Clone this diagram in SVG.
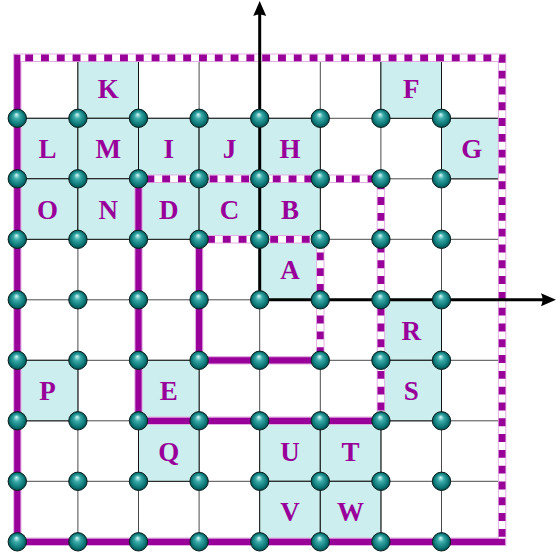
<svg xmlns="http://www.w3.org/2000/svg" xmlns:xlink="http://www.w3.org/1999/xlink" width="556" height="557" viewBox="0 0 556 557">
<style>
.grid{stroke:#4a4a4a;stroke-width:1;fill:none}
.cell rect{fill:#cdeeee;stroke:#111;stroke-width:1}
.cell text{font-family:"Liberation Serif","DejaVu Serif",serif;font-weight:bold;font-size:27px;fill:#990099;text-anchor:middle}
.halo{stroke:#e3aee3;stroke-width:8.4;fill:none;stroke-linecap:square}
.solid{stroke:#990099;stroke-width:6.2;fill:none;stroke-linecap:square}
.dwhite{stroke:#ffffff;stroke-width:6.4;fill:none}
.dash{stroke:#990099;stroke-width:6.8;fill:none;stroke-dasharray:7.9 7.9;stroke-dashoffset:7.9}
.axis{stroke:#000;stroke-width:3;fill:none;marker-end:url(#arr)}
.ball{fill:url(#bg);stroke:#0a2222;stroke-width:1}
</style>
<defs>
<radialGradient id="bg" cx="0.5" cy="0.5" r="0.5" fx="0.45" fy="0.28">
<stop offset="0" stop-color="#d8fafa"/>
<stop offset="0.35" stop-color="#3aaaa8"/>
<stop offset="0.8" stop-color="#0a7474"/>
<stop offset="1" stop-color="#034848"/>
</radialGradient>
<marker id="arr" markerUnits="userSpaceOnUse" viewBox="-1 -7 17 14" markerWidth="17" markerHeight="14" refX="2" refY="0" orient="auto">
<path d="M15,0 L0,-6.5 Q3,0 0,6.5 Z" fill="#000"/>
</marker>
</defs>
<rect width="556" height="557" fill="#fff"/>
<g id="grid" class="grid">
<path d="M77.9,57.8V541.8M138.5,57.8V541.8M199.1,57.8V541.8M259.7,57.8V541.8M320.3,57.8V541.8M380.9,57.8V541.8M441.5,57.8V541.8"/>
<path d="M17.3,118.3H502.1M17.3,178.8H502.1M17.3,239.3H502.1M17.3,299.8H502.1M17.3,360.3H502.1M17.3,420.8H502.1M17.3,481.3H502.1"/>
</g>
<g id="cell-K" class="cell"><rect x="77.9" y="57.8" width="60.6" height="60.5"/><text x="108.2" y="97.8">K</text></g>
<g id="cell-F" class="cell"><rect x="380.9" y="57.8" width="60.6" height="60.5"/><text x="411.2" y="97.8">F</text></g>
<g id="cell-L" class="cell"><rect x="17.3" y="118.3" width="60.6" height="60.5"/><text x="47.6" y="158.3">L</text></g>
<g id="cell-M" class="cell"><rect x="77.9" y="118.3" width="60.6" height="60.5"/><text x="108.2" y="158.3">M</text></g>
<g id="cell-I" class="cell"><rect x="138.5" y="118.3" width="60.6" height="60.5"/><text x="168.8" y="158.3">I</text></g>
<g id="cell-J" class="cell"><rect x="199.1" y="118.3" width="60.6" height="60.5"/><text x="229.4" y="158.3">J</text></g>
<g id="cell-H" class="cell"><rect x="259.7" y="118.3" width="60.6" height="60.5"/><text x="290.0" y="158.3">H</text></g>
<g id="cell-G" class="cell"><rect x="441.5" y="118.3" width="60.6" height="60.5"/><text x="471.8" y="158.3">G</text></g>
<g id="cell-O" class="cell"><rect x="17.3" y="178.8" width="60.6" height="60.5"/><text x="47.6" y="218.8">O</text></g>
<g id="cell-N" class="cell"><rect x="77.9" y="178.8" width="60.6" height="60.5"/><text x="108.2" y="218.8">N</text></g>
<g id="cell-D" class="cell"><rect x="138.5" y="178.8" width="60.6" height="60.5"/><text x="168.8" y="218.8">D</text></g>
<g id="cell-C" class="cell"><rect x="199.1" y="178.8" width="60.6" height="60.5"/><text x="229.4" y="218.8">C</text></g>
<g id="cell-B" class="cell"><rect x="259.7" y="178.8" width="60.6" height="60.5"/><text x="290.0" y="218.8">B</text></g>
<g id="cell-A" class="cell"><rect x="259.7" y="239.3" width="60.6" height="60.5"/><text x="290.0" y="279.3">A</text></g>
<g id="cell-R" class="cell"><rect x="380.9" y="299.8" width="60.6" height="60.5"/><text x="411.2" y="339.8">R</text></g>
<g id="cell-P" class="cell"><rect x="17.3" y="360.3" width="60.6" height="60.5"/><text x="47.6" y="400.3">P</text></g>
<g id="cell-E" class="cell"><rect x="138.5" y="360.3" width="60.6" height="60.5"/><text x="168.8" y="400.3">E</text></g>
<g id="cell-S" class="cell"><rect x="380.9" y="360.3" width="60.6" height="60.5"/><text x="411.2" y="400.3">S</text></g>
<g id="cell-Q" class="cell"><rect x="138.5" y="420.8" width="60.6" height="60.5"/><text x="168.8" y="460.8">Q</text></g>
<g id="cell-U" class="cell"><rect x="259.7" y="420.8" width="60.6" height="60.5"/><text x="290.0" y="460.8">U</text></g>
<g id="cell-T" class="cell"><rect x="320.3" y="420.8" width="60.6" height="60.5"/><text x="350.6" y="460.8">T</text></g>
<g id="cell-V" class="cell"><rect x="259.7" y="481.3" width="60.6" height="60.5"/><text x="290.0" y="521.3">V</text></g>
<g id="cell-W" class="cell"><rect x="320.3" y="481.3" width="60.6" height="60.5"/><text x="350.6" y="521.3">W</text></g>
<g id="connectors">
<g id="loops-halo" class="halo">
<path d="M502.1,541.8H17.3V57.8H502.1V541.8"/>
<path d="M380.9,420.8H138.5V178.8H380.9V420.8"/>
<path d="M320.3,360.3H199.1V239.3H320.3V360.3"/>
</g>
<g id="loops-white" class="dwhite">
<path d="M17.3,57.8H502.1V541.8"/>
<path d="M138.5,178.8H380.9V420.8"/>
<path d="M199.1,239.3H320.3V360.3"/>
</g>
<g id="loops-dashed" class="dash">
<path d="M17.3,57.8H502.1V541.8"/>
<path d="M138.5,178.8H380.9V420.8"/>
<path d="M199.1,239.3H320.3V360.3"/>
</g>
<g id="loops-solid" class="solid">
<path d="M502.1,541.8H17.3V57.8"/>
<path d="M380.9,420.8H138.5V178.8"/>
<path d="M320.3,360.3H199.1V239.3"/>
</g>
<g id="axes">
<path class="axis" d="M259.7,299.8V14"/>
<path class="axis" d="M259.7,299.8H543"/>
</g>
</g>
<g id="nodes">
<g id="n0-1"><circle class="ball" cx="17.3" cy="118.3" r="9.2"/></g>
<g id="n1-1"><circle class="ball" cx="77.9" cy="118.3" r="9.2"/></g>
<g id="n2-1"><circle class="ball" cx="138.5" cy="118.3" r="9.2"/></g>
<g id="n3-1"><circle class="ball" cx="199.1" cy="118.3" r="9.2"/></g>
<g id="n4-1"><circle class="ball" cx="259.7" cy="118.3" r="9.2"/></g>
<g id="n5-1"><circle class="ball" cx="320.3" cy="118.3" r="9.2"/></g>
<g id="n6-1"><circle class="ball" cx="380.9" cy="118.3" r="9.2"/></g>
<g id="n7-1"><circle class="ball" cx="441.5" cy="118.3" r="9.2"/></g>
<g id="n0-2"><circle class="ball" cx="17.3" cy="178.8" r="9.2"/></g>
<g id="n1-2"><circle class="ball" cx="77.9" cy="178.8" r="9.2"/></g>
<g id="n2-2"><circle class="ball" cx="138.5" cy="178.8" r="9.2"/></g>
<g id="n3-2"><circle class="ball" cx="199.1" cy="178.8" r="9.2"/></g>
<g id="n4-2"><circle class="ball" cx="259.7" cy="178.8" r="9.2"/></g>
<g id="n5-2"><circle class="ball" cx="320.3" cy="178.8" r="9.2"/></g>
<g id="n6-2"><circle class="ball" cx="380.9" cy="178.8" r="9.2"/></g>
<g id="n7-2"><circle class="ball" cx="441.5" cy="178.8" r="9.2"/></g>
<g id="n0-3"><circle class="ball" cx="17.3" cy="239.3" r="9.2"/></g>
<g id="n1-3"><circle class="ball" cx="77.9" cy="239.3" r="9.2"/></g>
<g id="n2-3"><circle class="ball" cx="138.5" cy="239.3" r="9.2"/></g>
<g id="n3-3"><circle class="ball" cx="199.1" cy="239.3" r="9.2"/></g>
<g id="n4-3"><circle class="ball" cx="259.7" cy="239.3" r="9.2"/></g>
<g id="n5-3"><circle class="ball" cx="320.3" cy="239.3" r="9.2"/></g>
<g id="n6-3"><circle class="ball" cx="380.9" cy="239.3" r="9.2"/></g>
<g id="n7-3"><circle class="ball" cx="441.5" cy="239.3" r="9.2"/></g>
<g id="n0-4"><circle class="ball" cx="17.3" cy="299.8" r="9.2"/></g>
<g id="n1-4"><circle class="ball" cx="77.9" cy="299.8" r="9.2"/></g>
<g id="n2-4"><circle class="ball" cx="138.5" cy="299.8" r="9.2"/></g>
<g id="n3-4"><circle class="ball" cx="199.1" cy="299.8" r="9.2"/></g>
<g id="n4-4"><circle class="ball" cx="259.7" cy="299.8" r="9.2"/></g>
<g id="n5-4"><circle class="ball" cx="320.3" cy="299.8" r="9.2"/></g>
<g id="n6-4"><circle class="ball" cx="380.9" cy="299.8" r="9.2"/></g>
<g id="n7-4"><circle class="ball" cx="441.5" cy="299.8" r="9.2"/></g>
<g id="n0-5"><circle class="ball" cx="17.3" cy="360.3" r="9.2"/></g>
<g id="n1-5"><circle class="ball" cx="77.9" cy="360.3" r="9.2"/></g>
<g id="n2-5"><circle class="ball" cx="138.5" cy="360.3" r="9.2"/></g>
<g id="n3-5"><circle class="ball" cx="199.1" cy="360.3" r="9.2"/></g>
<g id="n4-5"><circle class="ball" cx="259.7" cy="360.3" r="9.2"/></g>
<g id="n5-5"><circle class="ball" cx="320.3" cy="360.3" r="9.2"/></g>
<g id="n6-5"><circle class="ball" cx="380.9" cy="360.3" r="9.2"/></g>
<g id="n7-5"><circle class="ball" cx="441.5" cy="360.3" r="9.2"/></g>
<g id="n0-6"><circle class="ball" cx="17.3" cy="420.8" r="9.2"/></g>
<g id="n1-6"><circle class="ball" cx="77.9" cy="420.8" r="9.2"/></g>
<g id="n2-6"><circle class="ball" cx="138.5" cy="420.8" r="9.2"/></g>
<g id="n3-6"><circle class="ball" cx="199.1" cy="420.8" r="9.2"/></g>
<g id="n4-6"><circle class="ball" cx="259.7" cy="420.8" r="9.2"/></g>
<g id="n5-6"><circle class="ball" cx="320.3" cy="420.8" r="9.2"/></g>
<g id="n6-6"><circle class="ball" cx="380.9" cy="420.8" r="9.2"/></g>
<g id="n7-6"><circle class="ball" cx="441.5" cy="420.8" r="9.2"/></g>
<g id="n0-7"><circle class="ball" cx="17.3" cy="481.3" r="9.2"/></g>
<g id="n1-7"><circle class="ball" cx="77.9" cy="481.3" r="9.2"/></g>
<g id="n2-7"><circle class="ball" cx="138.5" cy="481.3" r="9.2"/></g>
<g id="n3-7"><circle class="ball" cx="199.1" cy="481.3" r="9.2"/></g>
<g id="n4-7"><circle class="ball" cx="259.7" cy="481.3" r="9.2"/></g>
<g id="n5-7"><circle class="ball" cx="320.3" cy="481.3" r="9.2"/></g>
<g id="n6-7"><circle class="ball" cx="380.9" cy="481.3" r="9.2"/></g>
<g id="n7-7"><circle class="ball" cx="441.5" cy="481.3" r="9.2"/></g>
<g id="n0-8"><circle class="ball" cx="17.3" cy="541.8" r="9.2"/></g>
<g id="n1-8"><circle class="ball" cx="77.9" cy="541.8" r="9.2"/></g>
<g id="n2-8"><circle class="ball" cx="138.5" cy="541.8" r="9.2"/></g>
<g id="n3-8"><circle class="ball" cx="199.1" cy="541.8" r="9.2"/></g>
<g id="n4-8"><circle class="ball" cx="259.7" cy="541.8" r="9.2"/></g>
<g id="n5-8"><circle class="ball" cx="320.3" cy="541.8" r="9.2"/></g>
<g id="n6-8"><circle class="ball" cx="380.9" cy="541.8" r="9.2"/></g>
<g id="n7-8"><circle class="ball" cx="441.5" cy="541.8" r="9.2"/></g>
</g>
</svg>
